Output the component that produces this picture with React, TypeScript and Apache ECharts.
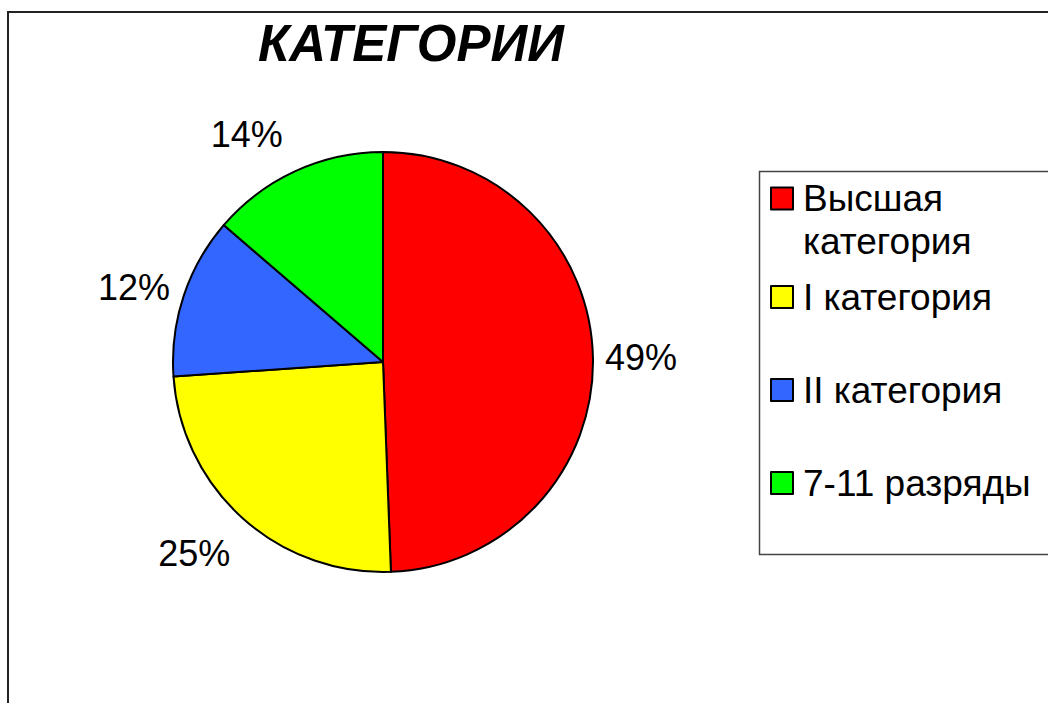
import React, { useEffect, useRef } from "react";
import * as echarts from "echarts";

const titleText = "КАТЕГОРИИ";
const categories = ["Высшая категория", "I категория", "II категория", "7-11 разряды"];
const values = [49.4, 24.5, 12.4, 13.7];
const colors = ["#FF0000", "#FFFF00", "#3366FF", "#00FF00"];
// per-slice label placement (line lengths used only to position labels; lines hidden)
const labelLen = [5, 47, 28, 40];
const labelLen2 = [2, -24, -18, -9];
const labelPadBottom = [15, 0, 0, 0];

const FONT = "'Liberation Sans', Arial, sans-serif";

export default function App() {
  const ref = useRef<HTMLDivElement>(null);
  useEffect(() => {
    if (!ref.current) return;
    const chart = echarts.init(ref.current, null, { renderer: "svg" });
    const data = categories.map((name, i) => ({
      name,
      value: values[i],
      itemStyle: { color: colors[i] },
      labelLine: { show: false, length: labelLen[i], length2: labelLen2[i] },
      label: { padding: [0, 0, labelPadBottom[i], 0] },
    }));
    const legendText = {
      fontFamily: FONT,
      fontSize: 37,
      color: "#000",
      padding: [0, 0, 0, 5],
    };
    chart.setOption({
      animation: false,
      backgroundColor: "#fff",
      title: {
        text: titleText,
        left: 258,
        top: 18,
        padding: 0,
        textStyle: {
          fontFamily: FONT,
          fontWeight: "bold",
          fontStyle: "italic",
          fontSize: 51,
          color: "#000",
        },
      },
      legend: [
        {
          data: [categories[0]],
          orient: "vertical",
          left: 770,
          top: 134,
          padding: 0,
          icon: "rect",
          itemWidth: 22,
          itemHeight: 22,
          selectedMode: false,
          formatter: () => "\nВысшая\nкатегория",
          itemStyle: { borderColor: "#000", borderWidth: 2 },
          textStyle: { ...legendText, lineHeight: 43 },
        },
        {
          data: categories.slice(1),
          orient: "vertical",
          left: 770,
          top: 277,
          padding: 0,
          itemGap: 53,
          icon: "rect",
          itemWidth: 22,
          itemHeight: 22,
          selectedMode: false,
          itemStyle: { borderColor: "#000", borderWidth: 2 },
          textStyle: { ...legendText, lineHeight: 40 },
        },
      ],
      graphic: [
        {
          type: "rect",
          shape: { x: 8, y: 12, width: 1200, height: 900 },
          style: { fill: "none", stroke: "#222", lineWidth: 2 },
          silent: true,
          z: -1,
        },
        {
          type: "rect",
          shape: { x: 759.5, y: 171.5, width: 400, height: 383 },
          style: { fill: "none", stroke: "#444", lineWidth: 1.5 },
          silent: true,
        },
      ],
      series: [
        {
          type: "pie",
          center: [383, 362],
          radius: 210,
          startAngle: 90,
          clockwise: true,
          avoidLabelOverlap: false,
          itemStyle: { borderColor: "#000", borderWidth: 2 },
          emphasis: { disabled: true },
          label: {
            show: true,
            position: "outside",
            fontFamily: FONT,
            fontSize: 36,
            color: "#000",
            formatter: (p: any) => Math.round(p.value) + "%",
          },
          labelLine: { show: false },
          data,
        },
      ],
    });
    return () => chart.dispose();
  }, []);
  return (
    <div
      ref={ref}
      style={{ position: "absolute", left: 0, top: 0, width: 1048, height: 703 }}
    />
  );
}
